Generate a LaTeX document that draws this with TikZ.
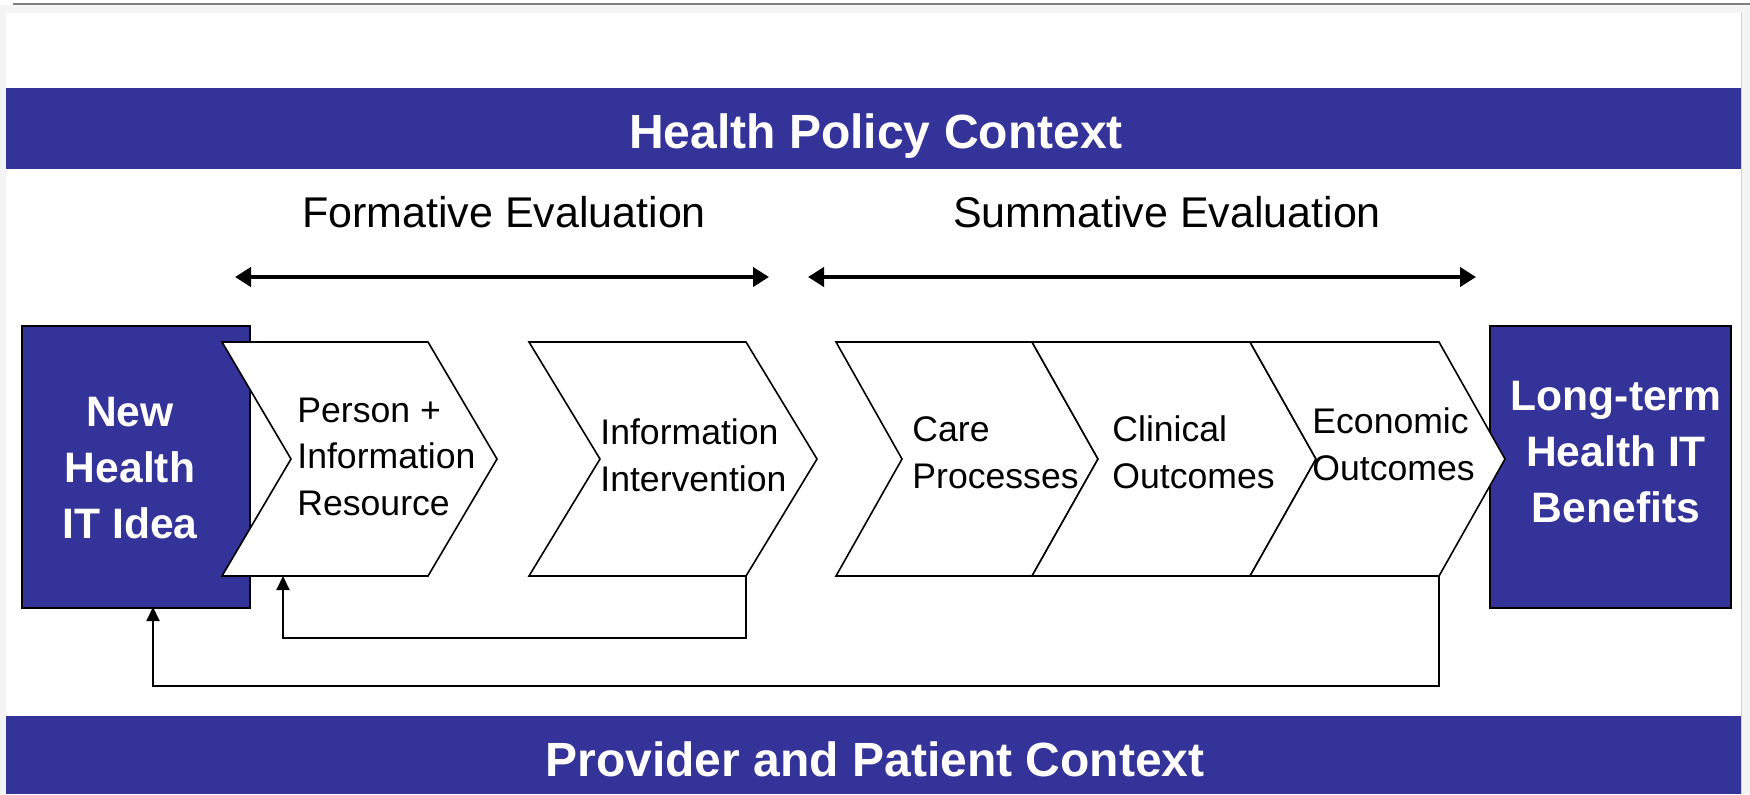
\documentclass[tikz,border=0pt]{standalone}
\usepackage{fontspec}
\setmainfont{Liberation Sans}
\usetikzlibrary{arrows.meta}
\definecolor{bandblue}{HTML}{333399}
\definecolor{framegrey}{HTML}{F4F4F4}
\definecolor{rulegrey}{HTML}{808080}

% one chevron: name, left x, right x, depth of notch and tip
\newcommand\chevshape[4]{%
  \draw[chev] (#2,342) -- (#3,342) -- ({#3+#4},459) -- (#3,576)
     -- (#2,576) -- ({#2+#4},459) -- cycle;
  \coordinate (#1 br) at (#3,576);
}

\begin{document}
\begin{tikzpicture}[x=0.5pt,y=-0.5pt,
  band/.style={fill=bandblue,draw=none},
  bandtext/.style={text=white,font=\fontsize{24}{28}\selectfont\bfseries,anchor=base,inner sep=0},
  evaltext/.style={font=\fontsize{21.5}{26}\selectfont,anchor=base,inner sep=0},
  span/.style={line width=2.2pt,{Triangle[length=8pt,width=9.5pt]}-{Triangle[length=8pt,width=9.5pt]}},
  endbox/.style={fill=bandblue,draw=black,line width=1pt,anchor=north west,inner sep=0,minimum height=141pt},
  boxtext/.style={text=white,font=\fontsize{21.3}{28}\selectfont\bfseries,align=center,anchor=base,inner sep=0},
  chev/.style={fill=white,draw=black,line width=0.8pt,line join=miter},
  chevtext/.style={font=\fontsize{17.8}{23.25}\selectfont,align=left,anchor=base west,inner sep=0},
  loop/.style={draw=black,line width=1pt,-{Triangle[length=7pt,width=6.5pt]}},
]
\useasboundingbox (0,0) rectangle (1750,794);

% page frame
\fill[white] (0,0) rectangle (1750,794);
\fill[framegrey] (0,5) rectangle (1750,13);
\fill[framegrey] (0,13) rectangle (6,794);
\fill[framegrey] (1741,13) rectangle (1750,794);
\draw[rulegrey,line width=1.2pt] (13,4) -- (1750,4);
\draw[black!18,line width=0.5pt] (1741,13) -- (1741,794);

% context bands
\fill[band] (6,88) rectangle (1741,169);
\node[bandtext] (policy) at (876,148) {Health Policy Context};
\fill[band] (6,716) rectangle (1741,794);
\node[bandtext] (provider) at (875,776) {Provider and Patient Context};

% evaluation spans
\node[evaltext] (formative) at (504,227) {Formative Evaluation};
\node[evaltext] (summative) at (1167,227) {Summative Evaluation};
\coordinate (fl) at (235,277);
\coordinate (fr) at (769,277);
\coordinate (sl) at (808,277);
\coordinate (sr) at (1476,277);
\draw[span] (fl) -- (fr);
\draw[span] (sl) -- (sr);

% end boxes
\node[endbox,minimum width=114pt] (idea) at (21,325) {};
\node[endbox,minimum width=120.5pt] (benefits) at (1489,325) {};

% chevrons
\chevshape{c1}{222}{428}{69}
\chevshape{c2}{529}{746}{71}
\chevshape{c3}{836}{1032}{66}
\chevshape{c4}{1032}{1250}{66}
\chevshape{c5}{1250}{1439}{66}

% texts (each placed by the baseline of its last line)
\node[boxtext] (ideatext) at (130,538) {New\\Health\\IT Idea};
\node[boxtext] (benefitstext) at (1616,522) {Long-term\\Health IT\\Benefits};
\node[chevtext] (person) at (297,515) {Person +\\Information\\Resource};
\node[chevtext] (intervention) at (600,491) {Information\\Intervention};
\node[chevtext] (care) at (912,488) {Care\\Processes};
\node[chevtext] (clinical) at (1112,488) {Clinical\\Outcomes};
\node[chevtext] (economic) at (1312,480) {Economic\\Outcomes};

% feedback loops
\coordinate (c1in) at (283,576);
\coordinate (ideain) at (153,607);
\draw[loop] (c2 br) -- ++(0,62) -| (c1in);
\draw[loop] (c5 br) -- ++(0,110) -| (ideain);
\end{tikzpicture}
\end{document}
